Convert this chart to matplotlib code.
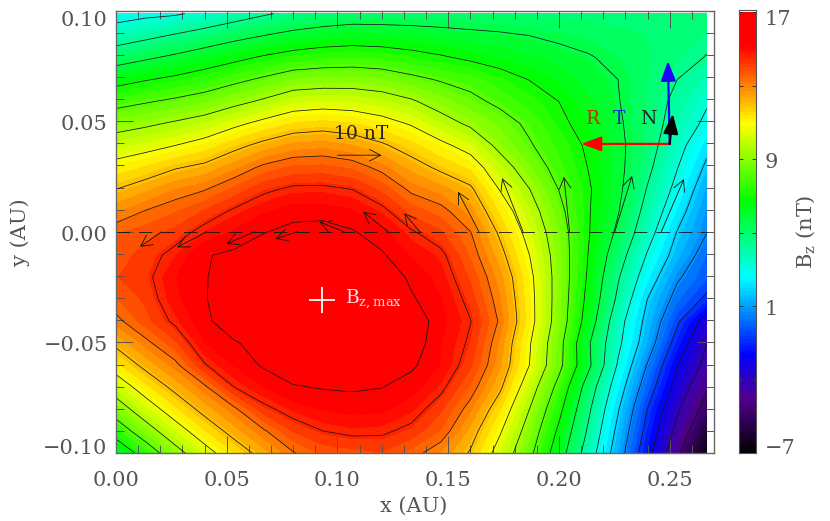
import numpy as np
from matplotlib import pyplot as plt
from matplotlib.colors import LinearSegmentedColormap
from matplotlib.transforms import ScaledTranslation

plt.rcParams['font.family'] = ['DejaVu Serif']
plt.rcParams['mathtext.fontset'] = 'custom'
plt.rcParams['mathtext.rm'] = 'DejaVu Serif'
plt.rcParams['mathtext.default'] = 'regular'

# Grid of the map
x_au = np.linspace(0, 0.2667, 21)
y_au = np.linspace(0.0986, -0.1, 21)

# Bz (nT), one row per y, top row first
bz_row_00 = [2.66, 2.85, 2.98, 3.36, 3.80, 4.24, 4.62, 4.81, 5.00, 5.00, 5.00, 5.00, 4.97, 4.94, 4.90, 4.87, 4.85, 4.81, 4.81, 4.77, 4.75]
bz_row_01 = [3.70, 4.09, 4.47, 4.87, 5.29, 5.63, 5.95, 6.19, 6.31, 6.26, 6.16, 6.01, 5.88, 5.77, 5.63, 5.44, 5.28, 5.12, 5.00, 4.87, 4.56]
bz_row_02 = [5.12, 5.48, 5.84, 6.24, 6.62, 7.02, 7.35, 7.52, 7.59, 7.50, 7.27, 7.01, 6.72, 6.46, 6.21, 5.96, 5.71, 5.38, 5.02, 4.68, 4.33]
bz_row_03 = [6.49, 6.83, 7.12, 7.47, 7.90, 8.32, 8.76, 8.88, 8.90, 8.76, 8.41, 8.07, 7.81, 7.32, 6.87, 6.44, 5.96, 5.63, 5.00, 4.37, 3.77]
bz_row_04 = [7.78, 8.07, 8.35, 8.66, 9.12, 9.58, 10.11, 10.24, 10.18, 9.95, 9.55, 8.95, 8.43, 7.93, 7.41, 6.89, 6.22, 5.68, 4.91, 4.11, 3.23]
bz_row_05 = [8.96, 9.23, 9.55, 9.89, 10.45, 10.96, 11.40, 11.54, 11.39, 11.06, 10.59, 9.87, 9.23, 8.61, 7.94, 7.15, 6.45, 5.79, 4.91, 3.89, 2.85]
bz_row_06 = [10.05, 10.34, 10.68, 11.09, 11.68, 12.21, 12.63, 12.73, 12.51, 12.08, 11.53, 10.92, 10.29, 9.13, 8.26, 7.50, 6.73, 5.91, 4.83, 3.53, 2.13]
bz_row_07 = [11.06, 11.41, 11.87, 12.16, 12.75, 13.37, 13.70, 13.74, 13.54, 13.01, 12.34, 11.76, 11.25, 9.96, 8.80, 7.75, 6.86, 5.93, 4.62, 3.15, 1.65]
bz_row_08 = [11.95, 12.39, 12.87, 13.17, 13.73, 14.32, 14.62, 14.64, 14.47, 13.90, 13.07, 12.68, 12.11, 10.64, 9.44, 8.13, 7.01, 5.87, 4.29, 2.78, 1.15]
bz_row_09 = [12.80, 13.25, 13.59, 14.04, 14.60, 15.04, 15.36, 15.37, 15.17, 14.69, 13.84, 13.44, 12.68, 11.29, 9.92, 8.46, 6.97, 5.69, 3.95, 2.30, 0.79]
bz_row_10 = [13.59, 13.84, 14.16, 14.79, 15.23, 15.73, 16.11, 16.24, 15.86, 15.30, 14.60, 14.07, 13.26, 11.82, 10.33, 8.74, 6.96, 5.39, 3.53, 1.78, 0.58]
bz_row_11 = [13.78, 14.16, 14.72, 15.67, 15.92, 16.18, 16.37, 16.43, 16.24, 15.86, 15.04, 14.66, 13.57, 12.24, 10.69, 8.89, 6.85, 4.91, 3.00, 1.39, 0.07]
bz_row_12 = [13.97, 14.28, 15.10, 15.67, 16.24, 16.37, 16.74, 16.87, 16.68, 16.43, 15.55, 14.91, 13.92, 12.66, 10.96, 8.94, 6.73, 4.47, 2.46, 0.72, -0.20]
bz_row_13 = [13.59, 14.09, 14.98, 15.67, 16.37, 16.62, 16.81, 17.00, 16.93, 16.68, 15.86, 15.14, 14.23, 12.89, 11.06, 8.91, 6.55, 4.14, 1.82, 0.20, -0.90]
bz_row_14 = [13.02, 13.84, 14.63, 15.48, 16.49, 16.62, 16.81, 16.93, 16.93, 16.93, 16.37, 15.30, 14.50, 13.11, 11.09, 8.86, 6.31, 3.58, 1.49, -0.52, -2.49]
bz_row_15 = [12.15, 13.02, 13.89, 15.10, 15.61, 16.24, 16.55, 16.74, 16.81, 16.74, 16.30, 15.14, 14.34, 12.77, 10.78, 8.56, 5.76, 3.36, 1.18, -1.17, -3.21]
bz_row_16 = [11.19, 12.20, 13.02, 14.41, 15.15, 15.86, 16.24, 16.49, 16.62, 16.49, 15.90, 15.08, 14.08, 12.58, 10.68, 8.48, 5.88, 2.98, 0.49, -1.88, -3.56]
bz_row_17 = [10.01, 11.20, 12.20, 13.08, 14.47, 15.10, 15.67, 15.80, 15.86, 15.76, 15.36, 14.66, 13.55, 12.11, 10.03, 7.78, 5.04, 2.43, -0.10, -2.39, -4.35]
bz_row_18 = [8.79, 10.11, 11.25, 12.26, 13.08, 14.26, 14.82, 15.17, 15.30, 15.23, 14.82, 14.08, 12.94, 11.42, 9.42, 7.21, 4.57, 1.93, -0.72, -3.02, -4.98]
bz_row_19 = [7.40, 8.88, 10.18, 11.31, 12.30, 13.12, 14.02, 14.47, 14.66, 14.60, 14.28, 13.59, 12.35, 10.80, 8.91, 6.68, 4.19, 1.54, -1.11, -3.56, -5.86]
bz_row_20 = [6.01, 7.40, 8.98, 10.27, 11.36, 12.32, 13.16, 13.71, 13.84, 13.97, 13.46, 12.83, 11.86, 10.24, 8.45, 6.21, 3.77, 1.18, -1.53, -4.22, -6.75]

# Field vectors along y=0: position (AU) and components (nT)
vec_x = [0.0206, 0.0409, 0.0624, 0.0820, 0.1029, 0.1229, 0.1372, 0.1639, 0.1838, 0.2048, 0.2252, 0.2462]
vec_u = [-4.93, -6.68, -6.27, -5.09, -5.61, -5.68, -3.57, -4.77, -4.77, -1.30, 3.93, 5.14]
vec_v = [-3.41, -3.55, -2.80, -1.59, 2.27, 4.55, 4.18, 9.09, 12.20, 12.50, 12.70, 12.00]

x_ticks = [0.00, 0.05, 0.10, 0.15, 0.20, 0.25]
x_labels = ['0.00', '0.05', '0.10', '0.15', '0.20', '0.25']
y_ticks = [-0.10, -0.05, 0.00, 0.05, 0.10]
y_labels = ['\u22120.10', '\u22120.05', '0.00', '0.05', '0.10']
cb_ticks = [-7, 1, 9, 17]
cb_labels = ['\u22127', '1', '9', '17']
cb_minor = [-3, 5, 13]

bz_stops = [-7, -4, -1.6, 2.6, 6.8, 11, 15.2, 17]
bz_colors = ['#000000', '#500090', '#0000ff', '#00ffff', '#00ff00', '#ffff00', '#ff0000', '#ff0000']

BZ_MIN, BZ_MAX = -7, 17
AU_PER_NT = 0.001986  # length of the arrows, 10 nT key

W, H = 830, 521
FS = 15
INK = '#555555'

bz = np.array([bz_row_00, bz_row_01, bz_row_02, bz_row_03, bz_row_04, bz_row_05, bz_row_06,
               bz_row_07, bz_row_08, bz_row_09, bz_row_10, bz_row_11, bz_row_12, bz_row_13,
               bz_row_14, bz_row_15, bz_row_16, bz_row_17, bz_row_18, bz_row_19, bz_row_20])

pos = [(s - BZ_MIN) / (BZ_MAX - BZ_MIN) for s in bz_stops]
cmap = LinearSegmentedColormap.from_list('bz', list(zip(pos, bz_colors)), N=256)


def px_rect(left, right, top, bottom):
    return [left / W, 1 - bottom / H, (right - left) / W, (bottom - top) / H]


def nudge_labels(labels, shifts_px):
    # the labels at the ends of the axes sit inside the axis range
    for label, dy in zip(labels, shifts_px):
        label.set_transform(label.get_transform() + ScaledTranslation(0, dy / 100, fig.dpi_scale_trans))


def open_arrow(ax, x0, y0, x1, y1, lw=0.6):
    ax.annotate('', xy=(x1, y1), xytext=(x0, y0), annotation_clip=False,
                arrowprops=dict(arrowstyle='->,head_length=0.8,head_width=0.42', mutation_scale=10,
                                color='#111111', lw=lw, shrinkA=0, shrinkB=0))


def rtn_arrow(ax, x0, y0, x1, y1, color):
    ax.annotate('', xy=(x1, y1), xytext=(x0, y0),
                arrowprops=dict(arrowstyle='-|>,head_length=1.2,head_width=0.45', mutation_scale=10,
                                color=color, lw=1.6, shrinkA=0, shrinkB=0))


fig = plt.figure(figsize=(W / 100, H / 100), dpi=100)
ax = fig.add_axes(px_rect(116, 714, 10.5, 453))

levels_fill = np.linspace(BZ_MIN, BZ_MAX, 65)
levels_line = np.linspace(BZ_MIN, BZ_MAX, 20)[1:-1]
ax.contourf(x_au, y_au, bz, levels=levels_fill, cmap=cmap, vmin=BZ_MIN, vmax=BZ_MAX)
ax.contour(x_au, y_au, bz, levels=levels_line, colors='#151515', linewidths=0.55, linestyles='solid')

ax.plot([0, 0.2667], [0, 0], color='#111111', lw=0.6, dashes=(16, 11))

for x0, u, v in zip(vec_x, vec_u, vec_v):
    open_arrow(ax, x0, 0, x0 + u * AU_PER_NT, v * AU_PER_NT)

# 10 nT key
open_arrow(ax, 0.100, 0.0346, 0.100 + 10 * AU_PER_NT, 0.0346)
ax.text(0.1105, 0.0442, '10 nT', fontsize=FS - 1.5, ha='center', va='center', color='#222222')

# RTN directions
rtn_arrow(ax, 0.25, 0.0397, 0.2101, 0.0397, '#ff0000')
rtn_arrow(ax, 0.25, 0.0397, 0.2492, 0.0772, '#2000ff')
rtn_arrow(ax, 0.25, 0.0397, 0.2514, 0.0533, '#000000')
ax.text(0.2152, 0.0510, 'R', color='#e02000', fontsize=FS - 1.5, ha='center', va='center')
ax.text(0.2272, 0.0510, 'T', color='#2020e0', fontsize=FS - 1.5, ha='center', va='center')
ax.text(0.2405, 0.0510, 'N', color='#222222', fontsize=FS - 1.5, ha='center', va='center')

# Location of the peak
ax.plot([0.0932], [-0.0307], marker='+', ms=19, mew=1.3, color='white')
ax.text(0.1035, -0.0307, r'B$_{z,max}$', color='#ffd8d8', fontsize=FS - 1.5, ha='left', va='center')

ax.set_xlim(0, 0.27)
ax.set_ylim(-0.10, 0.0999)
ax.set_xticks(x_ticks)
ax.set_xticklabels(x_labels)
ax.set_yticks(y_ticks)
ax.set_yticklabels(y_labels)
ax.set_xticks(np.arange(0, 0.27, 0.01), minor=True)
ax.set_yticks(np.arange(-0.10, 0.10, 0.01), minor=True)
ax.tick_params(which='major', direction='in', top=True, right=True, length=12, width=0.7,
               color='#555555', labelsize=FS, labelcolor=INK)
ax.tick_params(axis='x', which='major', pad=13)
ax.tick_params(axis='y', which='major', pad=6)
ax.tick_params(which='minor', direction='in', top=True, right=True, length=5.5, width=0.7, color='#555555')
for s in ax.spines.values():
    s.set_linewidth(1.0)
    s.set_color('#666666')
nudge_labels(ax.get_yticklabels(), [7, -1.5, -1.5, -1.5, -8])
fig.text(414 / W, 1 - 506 / H, 'x (AU)', fontsize=FS, color=INK, ha='center', va='center')
fig.text(20 / W, 1 - 232 / H, 'y (AU)', fontsize=FS, color=INK, ha='center', va='center', rotation=90)

# Colour bar
cax = fig.add_axes(px_rect(739, 756, 10, 453))
cb_vals = np.linspace(BZ_MIN, BZ_MAX, 129)
cax.pcolormesh([0, 1], cb_vals, (cb_vals[:-1] + cb_vals[1:]).reshape(-1, 1) / 2, cmap=cmap, vmin=BZ_MIN, vmax=BZ_MAX)
cax.set_xlim(0, 1)
cax.set_ylim(BZ_MIN, BZ_MAX + 0.11)
cax.set_xticks([])
cax.set_yticks(cb_ticks)
cax.set_yticklabels(cb_labels)
cax.set_yticks(cb_minor, minor=True)
cax.tick_params(which='both', direction='in', left=True, right=True, labelleft=False, labelright=True,
                length=3, width=0.7, color='#333333', labelsize=FS, labelcolor=INK, pad=6)
for s in cax.spines.values():
    s.set_linewidth(0.8)
    s.set_color('#555555')
nudge_labels(cax.get_yticklabels(), [6, -1.5, -1, -5])
fig.text(806 / W, 1 - 232 / H, r'B$_{z}$ (nT)', fontsize=FS, color=INK, ha='center', va='center', rotation=90)

fig.savefig('out.png', dpi=100)
plt.close(fig)
